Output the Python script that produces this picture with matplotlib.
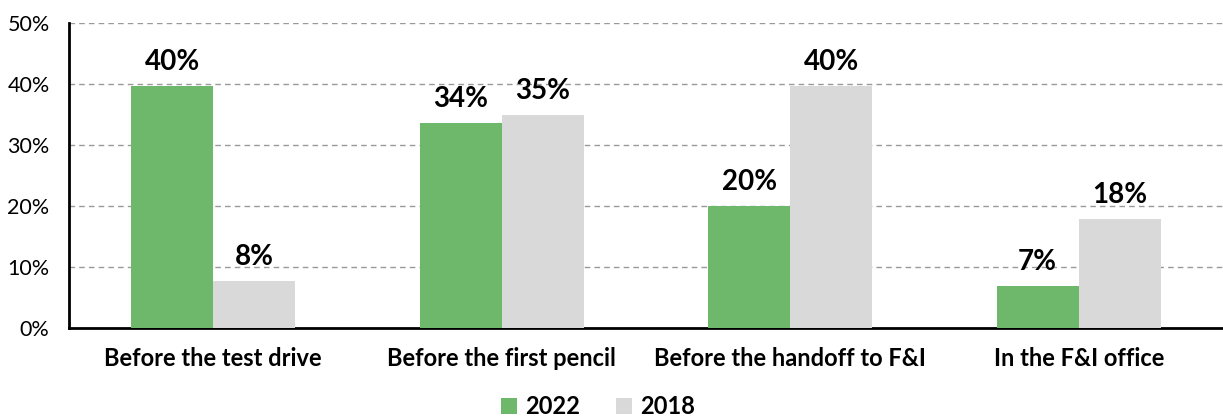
import numpy as np
import matplotlib.pyplot as plt

plt.rcParams['font.family'] = ['Lato', 'DejaVu Sans']

# data
categories = ["Before the test drive", "Before the first pencil",
              "Before the handoff to F&I", "In the F&I office"]
vals_2022 = [39.6, 33.6, 20.0, 6.9]
vals_2018 = [7.7, 34.9, 39.6, 17.9]
labels_2022 = ["40%", "34%", "20%", "7%"]
labels_2018 = ["8%", "35%", "40%", "18%"]

green = "#6db86b"
grey = "#d9d9d9"

fig = plt.figure(figsize=(12.23, 4.17), dpi=100)
ax = fig.add_axes([0.0564, 0.2134, 0.9436, 0.7314])

x = np.arange(len(categories))
w = 0.285
b1 = ax.bar(x - w / 2, vals_2022, w, color=green, label="2022", zorder=3)
b2 = ax.bar(x + w / 2, vals_2018, w, color=grey, label="2018", zorder=3)

for bars, labs in [(b1, labels_2022), (b2, labels_2018)]:
    for rect, lab in zip(bars, labs):
        ax.annotate(lab, (rect.get_x() + rect.get_width() / 2, rect.get_height()),
                    xytext=(0, 8), textcoords="offset points",
                    ha="center", va="bottom", fontsize=20, fontweight="bold")

ax.set_xlim(-0.5, 3.5)
ax.set_ylim(0, 50)
ax.set_yticks(range(0, 51, 10))
ax.set_yticklabels([f"{v}%" for v in range(0, 51, 10)], fontsize=15.5)
ax.set_xticks(x)
ax.set_xticklabels(categories, fontsize=17, fontweight="bold")
ax.tick_params(axis="y", length=0, pad=14)
ax.tick_params(axis="x", length=0, pad=14)

ax.grid(axis="y", linestyle=(0, (4, 3)), color="#999999", linewidth=1, zorder=0)
ax.spines["top"].set_visible(False)
ax.spines["right"].set_visible(False)
ax.spines["left"].set_linewidth(2)
ax.spines["bottom"].set_linewidth(2)

leg = fig.legend(handles=[b1, b2], loc="center", bbox_to_anchor=(0.489, 0.024), ncol=2,
                 frameon=False, prop={"size": 17, "weight": "bold"}, handlelength=0.7,
                 handleheight=0.7, handletextpad=0.35, columnspacing=1.5,
                 borderpad=0, borderaxespad=0)
for t in leg.get_texts():
    t.set_fontweight("bold")

fig.savefig("out.png", dpi=100)
